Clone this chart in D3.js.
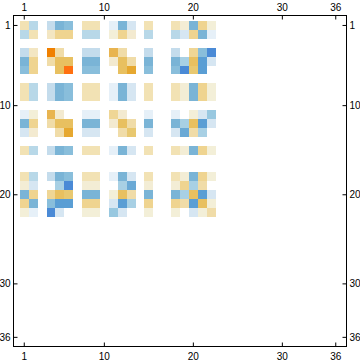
<!DOCTYPE html>
<html>
<head>
<meta charset="utf-8">
<script src="https://cdn.jsdelivr.net/npm/d3@7"></script>
<style>
  html, body { margin: 0; padding: 0; background: #fff; }
  svg { display: block; }
  .tick text { font-family: "Liberation Sans", Arial, sans-serif; font-size: 10px; fill: #000; }
</style>
</head>
<body>
<div id="chart"></div>
<script>

// 36 x 36 matrix, only the first 22 rows/cols hold values (rest are zero)
var size = 36;
var tickValues = [1, 10, 20, 30, 36];

var matrix = [
  [0.25, -0.4, 0, -0.3, -0.6, -0.55, 0, 0.25, 0.25, 0, -0.1, -0.6, -0.2, 0, 0.25, 0, 0, 0.25, 0.12, -0.6, 0.4, 0.1],
  [-0.4, 0.25, 0, 0.2, 0.4, 0.4, 0, -0.4, -0.4, 0, 0.1, 0.4, 0.15, 0, -0.4, 0, 0, -0.4, -0.2, 0.4, -0.6, -0.1],
  [0, 0, 0, 0, 0, 0, 0, 0, 0, 0, 0, 0, 0, 0, 0, 0, 0, 0, 0, 0, 0, 0],
  [-0.3, 0.2, 0, 0.9, 0.3, 0, 0, -0.3, -0.3, 0, 0.65, 0.3, 0, 0, -0.3, 0, 0, -0.3, 0, 0.38, -0.55, -1.0],
  [-0.6, 0.4, 0, 0.3, 0.55, 0.55, 0, -0.6, -0.6, 0, 0.15, 0.55, 0.3, 0, -0.6, 0, 0, -0.6, -0.45, 0.55, -0.8, -0.2],
  [-0.55, 0.4, 0, 0, 0.55, 1.0, 0, -0.55, -0.55, 0, 0, 0.55, 0.75, 0, -0.55, 0, 0, -0.55, -1.0, 0.5, -0.8, 0],
  [0, 0, 0, 0, 0, 0, 0, 0, 0, 0, 0, 0, 0, 0, 0, 0, 0, 0, 0, 0, 0, 0],
  [0.25, -0.4, 0, -0.3, -0.6, -0.55, 0, 0.25, 0.25, 0, -0.1, -0.6, -0.2, 0, 0.25, 0, 0, 0.25, 0.12, -0.6, 0.4, 0.1],
  [0.25, -0.4, 0, -0.3, -0.6, -0.55, 0, 0.25, 0.25, 0, -0.1, -0.6, -0.2, 0, 0.25, 0, 0, 0.25, 0.12, -0.6, 0.4, 0.1],
  [0, 0, 0, 0, 0, 0, 0, 0, 0, 0, 0, 0, 0, 0, 0, 0, 0, 0, 0, 0, 0, 0],
  [-0.1, 0.1, 0, 0.65, 0.15, 0, 0, -0.1, -0.1, 0, 0.38, 0.15, 0, 0, -0.1, 0, 0, -0.1, 0, 0.1, -0.2, -0.5],
  [-0.6, 0.4, 0, 0.3, 0.55, 0.55, 0, -0.6, -0.6, 0, 0.15, 0.55, 0.3, 0, -0.6, 0, 0, -0.6, -0.45, 0.55, -0.8, -0.2],
  [-0.2, 0.15, 0, 0, 0.3, 0.75, 0, -0.2, -0.2, 0, 0, 0.3, 0.5, 0, -0.2, 0, 0, -0.2, -0.7, 0.3, -0.45, 0],
  [0, 0, 0, 0, 0, 0, 0, 0, 0, 0, 0, 0, 0, 0, 0, 0, 0, 0, 0, 0, 0, 0],
  [0.25, -0.4, 0, -0.3, -0.6, -0.55, 0, 0.25, 0.25, 0, -0.1, -0.6, -0.2, 0, 0.25, 0, 0, 0.25, 0.12, -0.6, 0.4, 0.1],
  [0, 0, 0, 0, 0, 0, 0, 0, 0, 0, 0, 0, 0, 0, 0, 0, 0, 0, 0, 0, 0, 0],
  [0, 0, 0, 0, 0, 0, 0, 0, 0, 0, 0, 0, 0, 0, 0, 0, 0, 0, 0, 0, 0, 0],
  [0.25, -0.4, 0, -0.3, -0.6, -0.55, 0, 0.25, 0.25, 0, -0.1, -0.6, -0.2, 0, 0.25, 0, 0, 0.25, 0.12, -0.6, 0.4, 0.1],
  [0.12, -0.2, 0, 0, -0.45, -1.0, 0, 0.12, 0.12, 0, 0, -0.45, -0.7, 0, 0.12, 0, 0, 0.12, 0.4, -0.45, 0.3, 0],
  [-0.6, 0.4, 0, 0.38, 0.55, 0.5, 0, -0.6, -0.6, 0, 0.1, 0.55, 0.3, 0, -0.6, 0, 0, -0.6, -0.45, 0.55, -0.8, -0.2],
  [0.4, -0.6, 0, -0.55, -0.8, -0.8, 0, 0.4, 0.4, 0, -0.2, -0.8, -0.45, 0, 0.4, 0, 0, 0.4, 0.3, -0.8, 0.55, 0.1],
  [0.1, -0.1, 0, -1.0, -0.2, 0, 0, 0.1, 0.1, 0, -0.5, -0.2, 0, 0, 0.1, 0, 0, 0.1, 0, -0.2, 0.1, 0.3]
];

// blue for negative, white at zero, yellow -> orange for positive
var colorStops = [-1, -0.8, -0.6, -0.5, -0.4, -0.3, -0.2, -0.1, 0, 0.1, 0.15, 0.25, 0.3, 0.4, 0.5, 0.55, 0.65, 0.75, 0.9, 1];
var colorRange = ["#4a8ad6", "#5a9ed4", "#7ab4d6", "#98c8e0", "#b8d8e8", "#c4dcec", "#d6e6f2", "#e6f0f8", "#ffffff",
                  "#f3efd8", "#f3ead0", "#f2e2b4", "#f0dca8", "#efd490", "#e8c870", "#e8c060", "#e8b450", "#e6a830", "#f08000", "#ff7010"];

(function(){
  var width = 360, height = 363;
  // frame edges
  var fLeft = 13.5, fRight = 346.5, fTop = 15.5, fBottom = 346.5;

  var svg = d3.select("#chart").append("svg")
      .attr("width", width)
      .attr("height", height);

  var index = d3.range(1, size + 1);
  var x = d3.scaleBand().domain(index).range([19.8, 340.2]);
  var y = d3.scaleBand().domain(index).range([21, 341.8]);
  var color = d3.scaleLinear().domain(colorStops).range(colorRange).clamp(true);

  var cells = [];
  matrix.forEach(function(row, i){
    row.forEach(function(v, j){
      if (v !== 0) cells.push({r: i + 1, c: j + 1, v: v});
    });
  });

  svg.append("g")
    .selectAll("rect")
    .data(cells)
    .enter().append("rect")
      .attr("x", function(d){ return x(d.c); })
      .attr("y", function(d){ return y(d.r); })
      .attr("width", x.bandwidth())
      .attr("height", y.bandwidth())
      .attr("fill", function(d){ return color(d.v); })
      .attr("shape-rendering", "crispEdges");

  svg.append("rect")
      .attr("x", fLeft).attr("y", fTop)
      .attr("width", fRight - fLeft).attr("height", fBottom - fTop)
      .attr("fill", "none")
      .attr("stroke", "#000")
      .attr("stroke-width", 1);

  function styleAxis(g){
    g.select(".domain").remove();
    g.attr("color", "#000");
  }

  svg.append("g")
      .attr("transform", "translate(0," + fTop + ")")
      .call(d3.axisTop(x).tickValues(tickValues).tickSize(-4).tickPadding(5))
      .call(styleAxis);

  svg.append("g")
      .attr("transform", "translate(0," + fBottom + ")")
      .call(d3.axisBottom(x).tickValues(tickValues).tickSize(-4).tickPadding(6))
      .call(styleAxis);

  svg.append("g")
      .attr("transform", "translate(" + fLeft + ",0)")
      .call(d3.axisLeft(y).tickValues(tickValues).tickSize(-4).tickPadding(3))
      .call(styleAxis);

  svg.append("g")
      .attr("transform", "translate(" + fRight + ",0)")
      .call(d3.axisRight(y).tickValues(tickValues).tickSize(-4).tickPadding(3))
      .call(styleAxis);
})();

</script>
</body>
</html>
